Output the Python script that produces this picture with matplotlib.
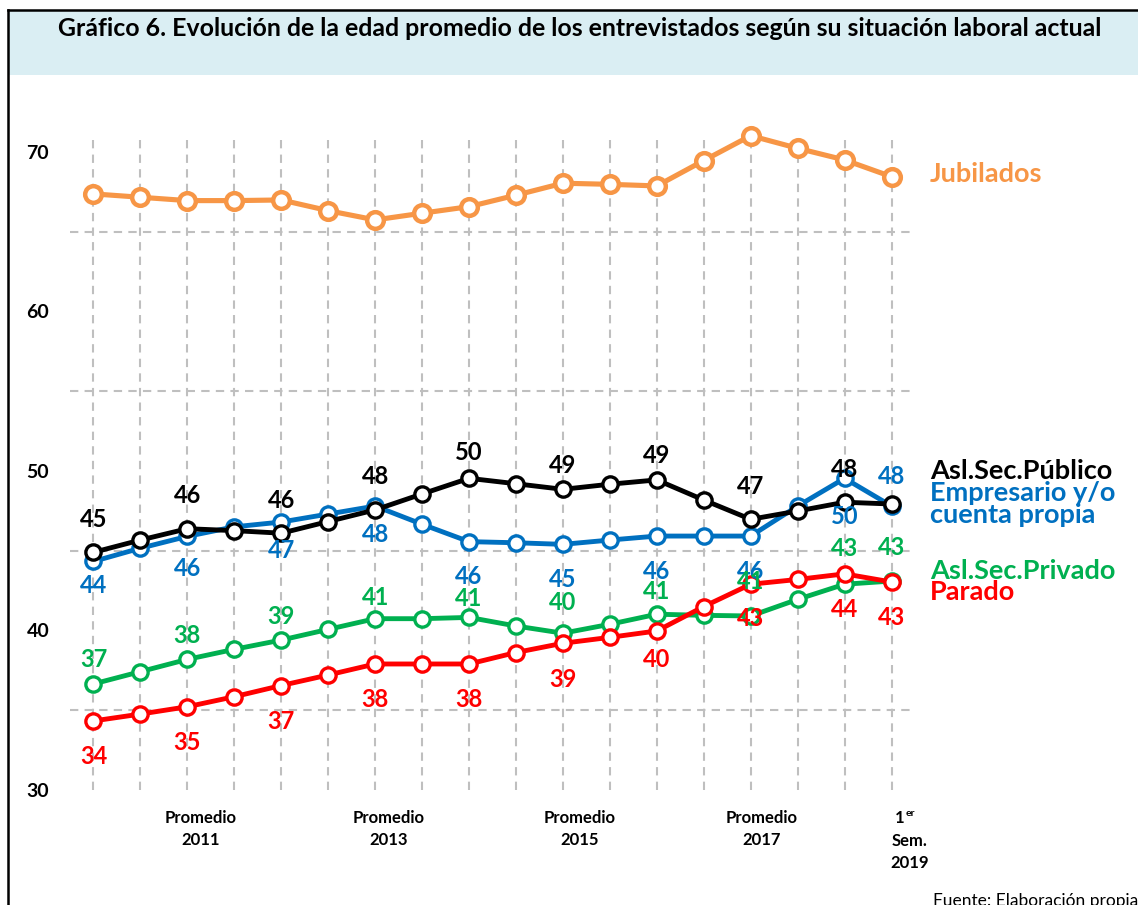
import matplotlib
matplotlib.use("Agg")
import matplotlib.pyplot as plt
import matplotlib.transforms as mtrans
import numpy as np
from matplotlib.patches import Rectangle
from matplotlib.lines import Line2D

# ---------------- data ----------------
n_points = 18
jubilados = [67.37, 67.16, 66.95, 66.95, 66.99, 66.32, 65.74, 66.16, 66.57, 67.29,
             68.04, 67.97, 67.87, 69.46, 71.02, 70.23, 69.50, 68.45]
publico = [44.90, 45.67, 46.38, 46.26, 46.10, 46.83, 47.56, 48.56, 49.54, 49.20,
           48.85, 49.17, 49.44, 48.18, 46.97, 47.49, 48.04, 47.93]
empresario = [44.33, 45.16, 45.90, 46.50, 46.80, 47.30, 47.80, 46.66, 45.57, 45.50,
              45.40, 45.67, 45.92, 45.92, 45.92, 47.80, 49.54, 47.80]
privado = [36.65, 37.42, 38.19, 38.82, 39.40, 40.07, 40.74, 40.74, 40.82, 40.28,
           39.83, 40.39, 41.02, 40.95, 40.91, 41.95, 42.90, 43.10]
parado = [34.33, 34.76, 35.22, 35.85, 36.55, 37.21, 37.90, 37.90, 37.90, 38.62,
          39.20, 39.57, 39.97, 41.50, 42.90, 43.20, 43.55, 43.04]

series_names = ["Jubilados", "Asl.Sec.Público", "Empresario y/o\ncuenta propia",
                "Asl.Sec.Privado", "Parado"]
x_labels = ["Promedio\n2011", "Promedio\n2013", "Promedio\n2015", "Promedio\n2017"]
last_label = ["1", "er", "Sem.\n2019"]
y_ticks = [30, 40, 50, 60, 70]
title = "Gráfico 6. Evolución de la edad promedio de los entrevistados según su situación laboral actual"
source = "Fuente: Elaboración propia"

# ---------------- style ----------------
C_OR = "#F79646"
C_BK = "#000000"
C_BL = "#0070C0"
C_GR = "#00B050"
C_RD = "#FF0000"
FONT = "Lato"

W, H = 1138, 905
fig = plt.figure(figsize=(W / 100, H / 100), dpi=100)
plt.rcParams["font.family"] = [FONT, "DejaVu Sans"]

def fx(px):
    return px / W

def fy(py):
    return 1 - py / H

# title band and frame
fig.patches.append(Rectangle((fx(8), fy(75)), fx(W - 8), (75 - 11) / H,
                             transform=fig.transFigure, facecolor="#DAEEF3",
                             edgecolor="none", zorder=0))
fig.add_artist(Line2D([fx(8), fx(8)], [fy(10), fy(905)], color="black", lw=1.8,
                      transform=fig.transFigure))
fig.add_artist(Line2D([fx(8), 1.0], [fy(10), fy(10)], color="black", lw=1.8,
                      transform=fig.transFigure))

ax = fig.add_axes([fx(70), fy(790), fx(915) - fx(70), (790 - 136) / H])
ax.set_xlim(-0.5, n_points - 0.5)
ax.set_ylim(30, 71.0)
for s in ax.spines.values():
    s.set_visible(False)

x = np.arange(n_points)

# grid
ax.set_yticks(y_ticks)
ax.set_yticks([35, 45, 55, 65], minor=True)
ax.set_xticks(x)
ax.tick_params(axis="both", which="both", length=0)
ax.set_xticklabels([])
ax.set_yticklabels([str(v) for v in y_ticks], fontweight="bold", fontsize=14)
ax.tick_params(axis="y", pad=15)
ax.grid(False)
ax.yaxis.grid(True, which="minor", color="#BFBFBF", linestyle=(0, (4, 3)), lw=1.5)
ax.xaxis.grid(True, which="major", color="#BFBFBF", linestyle=(0, (4, 3)), lw=1.5)
ax.set_axisbelow(True)

def draw(vals, color, z, ms=11, mew=2.4, lw=3.5):
    ax.plot(x, vals, color=color, lw=lw, marker="o", ms=ms, mew=mew,
            mfc="white", mec=color, zorder=z, clip_on=False)

draw(jubilados, C_OR, 3, ms=12, mew=3.2, lw=3.7)
draw(privado, C_GR, 4)
draw(parado, C_RD, 5)
draw(empresario, C_BL, 6)
draw(publico, C_BK, 7)

label_idx = list(range(0, 17, 2))
PX2PT = 0.72

def labels(vals, color, idxs, offsets_px):
    # offsets_px: pixel offset of label centre from point (+ up, - down)
    for i in idxs:
        v = vals[i]
        dy = offsets_px.get(i, offsets_px["default"]) * PX2PT
        ax.annotate(f"{v:.0f}", (x[i], v), xytext=(0, dy), textcoords="offset points",
                    ha="center", va="center", color=color, fontsize=17,
                    fontweight="bold", zorder=10, annotation_clip=False)

labels(publico, C_BK, label_idx,
       {"default": 33, 8: 26, 10: 24, 12: 24})
labels(empresario, C_BL, label_idx + [17],
       {"default": -35, 0: -24, 2: -32, 4: -28, 6: -28, 16: -38, 17: 30})
labels(privado, C_GR, label_idx + [17],
       {"default": 24, 6: 21, 8: 19, 10: 31, 12: 23, 14: 34, 16: 36, 17: 34})
labels(parado, C_RD, label_idx + [17],
       {"default": -36, 12: -29, 14: -34})

# x category labels
bt = mtrans.blended_transform_factory(ax.transData, fig.transFigure)
for xl, xp in zip(x_labels, [2.28, 6.28, 10.36, 14.23]):
    ax.text(xp, fy(810), xl, transform=bt, ha="center", va="top",
            fontsize=12, fontweight="bold", linespacing=1.45)
ax.text(17.28, fy(810), last_label[0], transform=bt, ha="right", va="top",
        fontsize=12, fontweight="bold")
ax.text(17.29, fy(809), last_label[1], transform=bt, ha="left", va="top",
        fontsize=7.5, fontweight="bold")
ax.text(17.38, fy(833), last_label[2], transform=bt, ha="center", va="top",
        fontsize=12, fontweight="bold", linespacing=1.45)

# series name labels on the right
name_pos = [174, 471, (493, 515), 571, 592]
name_cols = [C_OR, C_BK, C_BL, C_GR, C_RD]
for name, pos, col in zip(series_names, name_pos, name_cols):
    lines = name.split("\n")
    ys = pos if isinstance(pos, tuple) else (pos,)
    for ln, yy in zip(lines, ys):
        fig.text(fx(930), fy(yy), ln, color=col, fontsize=19.5, fontweight="bold",
                 ha="left", va="center")

# title and source
tt = fig.text(fx(580), fy(29), title, fontsize=16, fontweight="bold", ha="center", va="center")
fig.text(fx(1138), fy(893), source, fontsize=12.5, ha="right", va="top")

# fit title width to reference (~1050 px)
fig.canvas.draw()
r = fig.canvas.get_renderer()
wpx = tt.get_window_extent(r).width
tt.set_fontsize(16 * 1050 / wpx)

fig.savefig("out.png", dpi=100)
